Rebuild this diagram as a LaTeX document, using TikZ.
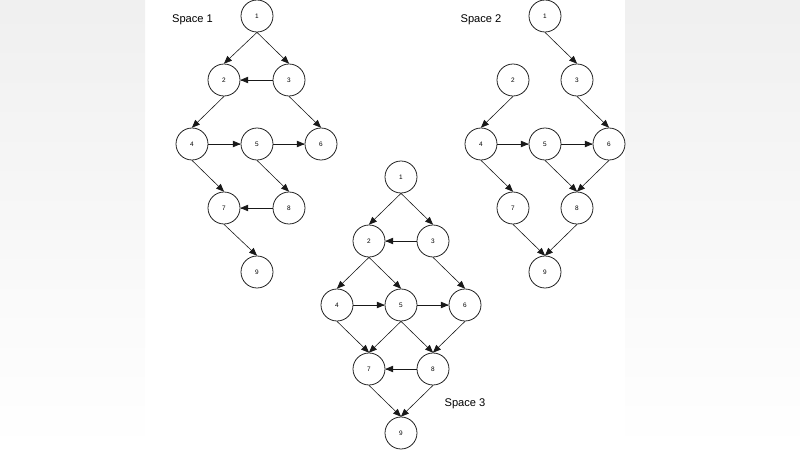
\documentclass[tikz,border=0pt]{standalone}
\usepackage{fontspec}
\setmainfont{Liberation Sans}
\usepackage{pgf,tikz}
\usetikzlibrary{arrows}
\definecolor{ebebeb}{rgb}{0.94,0.94,0.94}
\definecolor{qqqqqq}{rgb}{0.1,0.1,0.1}
\begin{document}
\begin{tikzpicture}[line cap=round,line join=round,>=triangle 45,x=0.03cm,y=-0.03cm,
  vtx/.style={draw=qqqqqq,circle,minimum size=0.96cm,inner sep=0pt,line width=0.65pt,font=\fontsize{5.5}{6}\selectfont},
  lbl/.style={font=\fontsize{9.5}{11}\selectfont},
  edge/.style={->,line width=0.5pt,draw=qqqqqq}]
\useasboundingbox (0,0) rectangle (800,450);
\shade[top color=ebebeb,bottom color=white] (0,0) rectangle (145,450);
\shade[top color=ebebeb,bottom color=white] (625,0) rectangle (800,450);
% Space 1
\node[lbl] (t1) at (192.5,19.5) {Space 1};
\node[vtx] (a1) at (257,16) {1};
\node[vtx] (a2) at (224,80) {2};
\node[vtx] (a3) at (289,80) {3};
\node[vtx] (a4) at (192,144) {4};
\node[vtx] (a5) at (257,144) {5};
\node[vtx] (a6) at (321,144) {6};
\node[vtx] (a7) at (224,208) {7};
\node[vtx] (a8) at (289,208) {8};
\node[vtx] (a9) at (257,272) {9};
\draw[edge] (a1.south) -- (a2.north);
\draw[edge] (a1.south) -- (a3.north);
\draw[edge] (a3.west) -- (a2.east);
\draw[edge] (a2.south) -- (a4.north);
\draw[edge] (a3.south) -- (a6.north);
\draw[edge] (a4.east) -- (a5.west);
\draw[edge] (a5.east) -- (a6.west);
\draw[edge] (a4.south) -- (a7.north);
\draw[edge] (a5.south) -- (a8.north);
\draw[edge] (a8.west) -- (a7.east);
\draw[edge] (a7.south) -- (a9.north);
% Space 2
\node[lbl] (t2) at (481,19.5) {Space 2};
\node[vtx] (b1) at (545,16) {1};
\node[vtx] (b2) at (513,80) {2};
\node[vtx] (b3) at (577,80) {3};
\node[vtx] (b4) at (481,144) {4};
\node[vtx] (b5) at (545,144) {5};
\node[vtx] (b6) at (609,144) {6};
\node[vtx] (b7) at (513,208) {7};
\node[vtx] (b8) at (577,208) {8};
\node[vtx] (b9) at (545,272) {9};
\draw[edge] (b1.south) -- (b3.north);
\draw[edge] (b2.south) -- (b4.north);
\draw[edge] (b3.south) -- (b6.north);
\draw[edge] (b4.east) -- (b5.west);
\draw[edge] (b5.east) -- (b6.west);
\draw[edge] (b4.south) -- (b7.north);
\draw[edge] (b5.south) -- (b8.north);
\draw[edge] (b6.south) -- (b8.north);
\draw[edge] (b7.south) -- (b9.north);
\draw[edge] (b8.south) -- (b9.north);
% Space 3
\node[lbl] (t3) at (465,404) {Space 3};
\node[vtx] (c1) at (401,177) {1};
\node[vtx] (c2) at (369,241) {2};
\node[vtx] (c3) at (433,241) {3};
\node[vtx] (c4) at (337,305) {4};
\node[vtx] (c5) at (401,305) {5};
\node[vtx] (c6) at (465,305) {6};
\node[vtx] (c7) at (369,369) {7};
\node[vtx] (c8) at (433,369) {8};
\node[vtx] (c9) at (401,433) {9};
\draw[edge] (c1.south) -- (c2.north);
\draw[edge] (c1.south) -- (c3.north);
\draw[edge] (c3.west) -- (c2.east);
\draw[edge] (c2.south) -- (c4.north);
\draw[edge] (c2.south) -- (c5.north);
\draw[edge] (c3.south) -- (c6.north);
\draw[edge] (c4.east) -- (c5.west);
\draw[edge] (c5.east) -- (c6.west);
\draw[edge] (c4.south) -- (c7.north);
\draw[edge] (c5.south) -- (c7.north);
\draw[edge] (c5.south) -- (c8.north);
\draw[edge] (c6.south) -- (c8.north);
\draw[edge] (c8.west) -- (c7.east);
\draw[edge] (c7.south) -- (c9.north);
\draw[edge] (c8.south) -- (c9.north);
\end{tikzpicture}
\end{document}
